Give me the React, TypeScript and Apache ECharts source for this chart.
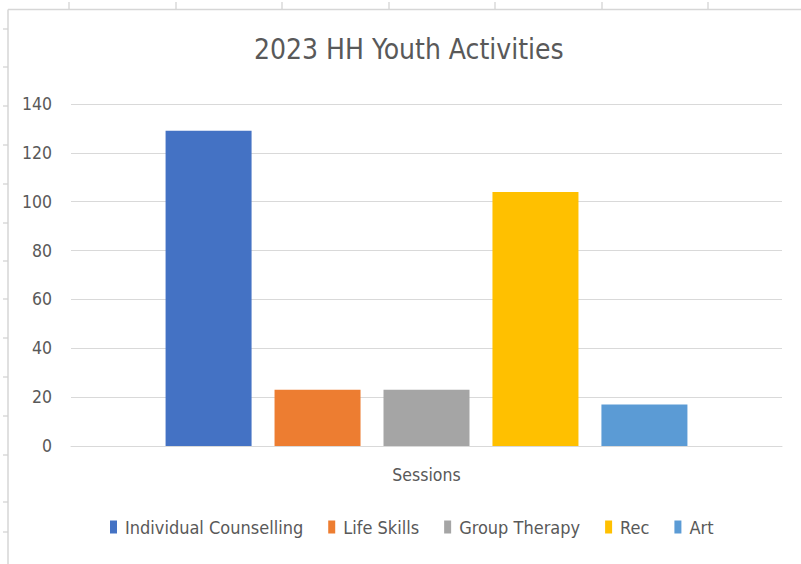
import React, { useEffect, useRef } from "react";
import * as echarts from "echarts";

const categories = ["Sessions"];
const seriesNames = ["Individual Counselling", "Life Skills", "Group Therapy", "Rec", "Art"];
const seriesValues = [129, 23, 23, 104, 17];
const seriesColors = ["#4472C4", "#ED7D31", "#A5A5A5", "#FFC000", "#5B9BD5"];
const yMin = 0;
const yMax = 140;
const yInterval = 20;
const titleText = "2023 HH Youth Activities";

const FONT = "'DejaVu Sans Condensed', 'Open Sans', sans-serif";
const TEXT_COLOR = "#595959";
const LINE_COLOR = "#d9d9d9";

// spreadsheet frame decoration positions
const colTickX = [69, 176, 282, 389, 495, 602, 708];
const rowTickY = [29, 67, 106, 145, 184, 223, 261, 299, 338, 377, 416, 455, 502, 532];

export default function App() {
  const ref = useRef<HTMLDivElement>(null);

  useEffect(() => {
    if (!ref.current) return;
    const chart = echarts.init(ref.current, null, { renderer: "svg" });

    const frame: any[] = [
      {
        type: "line",
        shape: { x1: 8, y1: 9.5, x2: 801, y2: 9.5 },
        style: { stroke: "#d6d6d6", lineWidth: 1.5 },
        silent: true,
      },
      {
        type: "line",
        shape: { x1: 8, y1: 9.5, x2: 8, y2: 564 },
        style: { stroke: "#d6d6d6", lineWidth: 1.5 },
        silent: true,
      },
      ...colTickX.map((x) => ({
        type: "line",
        shape: { x1: x, y1: 2, x2: x, y2: 9 },
        style: { stroke: "#d0d0d0", lineWidth: 1.2 },
        silent: true,
      })),
      ...rowTickY.map((y) => ({
        type: "line",
        shape: { x1: 3, y1: y, x2: 8, y2: y },
        style: { stroke: "#d0d0d0", lineWidth: 1.2 },
        silent: true,
      })),
    ];

    chart.setOption({
      animation: false,
      backgroundColor: "#ffffff",
      title: {
        text: titleText,
        left: 254,
        top: 35,
        padding: 0,
        textStyle: {
          fontFamily: FONT,
          fontSize: 28,
          fontWeight: "normal",
          color: TEXT_COLOR,
        },
      },
      legend: {
        data: seriesNames,
        left: 110,
        top: 518,
        padding: 0,
        icon: "rect",
        itemWidth: 7,
        itemHeight: 13,
        itemGap: 25,
        textStyle: {
          fontFamily: FONT,
          fontSize: 18,
          color: TEXT_COLOR,
          padding: [0, 0, 0, 3],
        },
      },
      grid: {
        left: 71,
        right: 19,
        top: 104,
        bottom: 118,
        containLabel: false,
      },
      xAxis: {
        type: "category",
        data: categories,
        axisLine: { show: true, lineStyle: { color: LINE_COLOR, width: 1 } },
        axisTick: { show: false },
        axisLabel: {
          margin: 20,
          fontFamily: FONT,
          fontSize: 17.5,
          color: TEXT_COLOR,
        },
      },
      yAxis: {
        type: "value",
        min: yMin,
        max: yMax,
        interval: yInterval,
        axisLine: { show: false },
        axisTick: { show: false },
        splitLine: { show: true, lineStyle: { color: LINE_COLOR, width: 1 } },
        axisLabel: {
          margin: 19,
          fontFamily: FONT,
          fontSize: 17.5,
          color: TEXT_COLOR,
        },
      },
      series: seriesNames.map((name, i) => ({
        name,
        type: "bar",
        data: [seriesValues[i]],
        barWidth: 86,
        barGap: "26.7%",
        itemStyle: { color: seriesColors[i] },
      })),
      graphic: frame,
    });

    return () => {
      chart.dispose();
    };
  }, []);

  return (
    <div
      ref={ref}
      style={{ position: "fixed", left: 0, top: 0, width: 801, height: 564, background: "#fff" }}
    />
  );
}
